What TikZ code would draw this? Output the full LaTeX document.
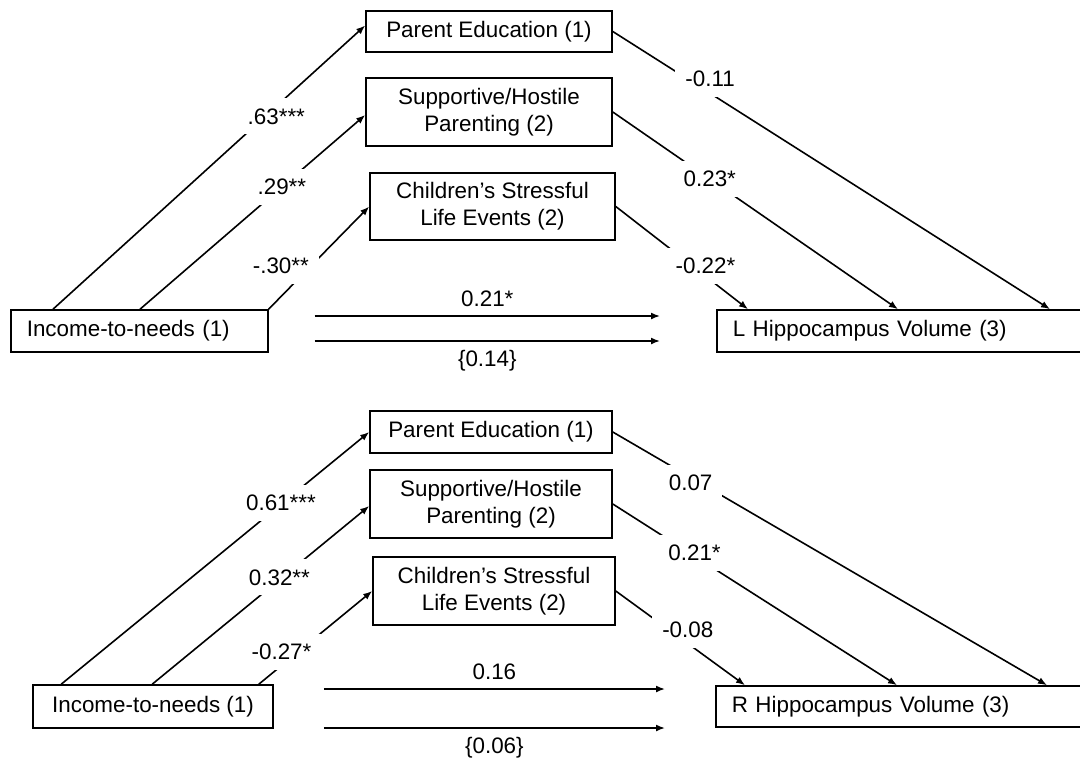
\documentclass[tikz,border=0pt]{standalone}
\usepackage{fontspec}
\setmainfont{Liberation Sans}
\usetikzlibrary{arrows.meta}
\begin{document}
\begin{tikzpicture}[x=0.5pt, y=-0.5pt, line width=0.8pt, >={Latex[length=4.5pt,width=3.5pt]},
      every node/.style={font=\fontsize{11.2}{13.5}\selectfont},
      box/.style={draw, align=center, inner sep=0pt},
      leftbox/.style={draw, anchor=west, align=left, inner xsep=8pt, inner ysep=0pt},
      coef/.style={fill=white, inner xsep=5pt, inner ysep=5pt}]
            \useasboundingbox (0,0) rectangle (1080,762);
            % left hippocampus
            \node[box, minimum width=123pt, minimum height=20.5pt] (pe1) at (489,31.5) {Parent Education (1)};
            \node[box, minimum width=123pt, minimum height=34pt] (sup1) at (489,112) {Supportive/Hostile\\Parenting (2)};
            \node[box, minimum width=122.5pt, minimum height=33.5pt] (ch1) at (492.5,206.5) {Children’s Stressful\\Life Events (2)};
            \node[leftbox, text width=112.5pt, minimum height=21pt] (inc1) at (10,331) {Income-to-needs (1)};
            \node[leftbox, text width=167.5pt, minimum height=21pt] (hip1) at (716,331) {L Hippocampus Volume (3)};
            \draw[->] ([xshift=21.5pt]inc1.north west) -- ([yshift=3pt]pe1.west) node[coef, pos=0.68, xshift=5.5pt] {.63***};
            \draw[->] ([xshift=65pt]inc1.north west) -- ([yshift=-1.5pt]sup1.west) node[coef, pos=0.63] {.29**};
            \draw[->] (inc1.north east) -- (ch1.west) node[coef, pos=0.42, xshift=-15pt] {-.30**};
            \draw[->] (pe1.east) -- ([xshift=167pt]hip1.north west) node[coef, pos=0.17, xshift=11.5pt] {-0.11};
            \draw[->] (sup1.east) -- ([xshift=91pt]hip1.north west) node[coef, pos=0.34] {0.23*};
            \draw[->] (ch1.east) -- ([xshift=16pt]hip1.north west) node[coef, pos=0.58, xshift=6.5pt] {-0.22*};
            \draw[->] ([xshift=23pt, yshift=7.5pt]inc1.east) -- ([xshift=-28pt, yshift=7.5pt]hip1.west) node[midway, above=1pt] {0.21*};
            \draw[->] ([xshift=23pt, yshift=-5pt]inc1.east) -- ([xshift=-28pt, yshift=-5pt]hip1.west) node[midway, below=1pt] {\{0.14\}};
            % right hippocampus
            \node[box, minimum width=121pt, minimum height=21pt] (pe2) at (491,432) {Parent Education (1)};
            \node[box, minimum width=121pt, minimum height=34pt] (sup2) at (491,504) {Supportive/Hostile\\Parenting (2)};
            \node[box, minimum width=121pt, minimum height=34pt] (ch2) at (494,591) {Children’s Stressful\\Life Events (2)};
            \node[box, minimum width=120pt, minimum height=21.5pt] (inc2) at (153,706.5) {Income-to-needs (1)};
            \node[leftbox, text width=168pt, minimum height=20.5pt] (hip2) at (715,706.5) {R Hippocampus Volume (3)};
            \draw[->] ([xshift=14.5pt]inc2.north west) -- (pe2.west) node[coef, pos=0.72, xshift=-1pt] {0.61***};
            \draw[->] ([xshift=60pt]inc2.north west) -- ([yshift=-1pt]sup2.west) node[coef, pos=0.6, xshift=-1.5pt] {0.32**};
            \draw[->] ([xshift=-7.5pt]inc2.north east) -- (ch2.west) node[coef, pos=0.35, xshift=-8.5pt] {-0.27*};
            \draw[->] (pe2.east) -- ([xshift=166pt]hip2.north west) node[coef, pos=0.2, xshift=-4.5pt] {0.07};
            \draw[->] (sup2.east) -- ([xshift=91pt]hip2.north west) node[coef, pos=0.27, xshift=2.5pt] {0.21*};
            \draw[->] (ch2.east) -- ([xshift=15pt]hip2.north west) node[coef, pos=0.41, xshift=9.5pt] {-0.08};
            \draw[->] ([xshift=25pt, yshift=8.75pt]inc2.east) -- ([xshift=-25pt, yshift=8.75pt]hip2.west) node[midway, above=1pt] {0.16};
            \draw[->] ([xshift=25pt, yshift=-10.75pt]inc2.east) -- ([xshift=-25pt, yshift=-10.75pt]hip2.west) node[midway, below=1pt] {\{0.06\}};
      \end{tikzpicture}
\end{document}
